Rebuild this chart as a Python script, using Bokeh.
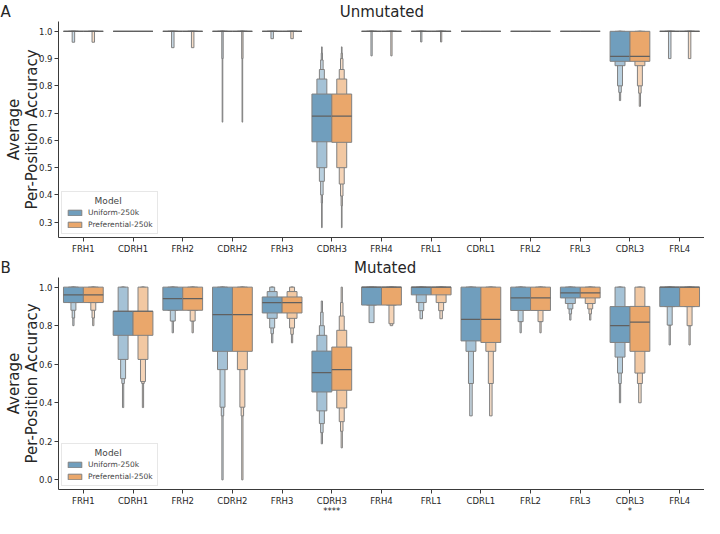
import numpy as np
from bokeh.plotting import figure
from bokeh.models import Range1d, FixedTicker, Legend, LegendItem, Title, ColumnDataSource
from bokeh.layouts import column
from bokeh.embed import file_html
from bokeh.resources import INLINE

REGIONS = ["FRH1", "CDRH1", "FRH2", "CDRH2", "FRH3", "CDRH3", "FRH4",
           "FRL1", "CDRL1", "FRL2", "FRL3", "CDRL3", "FRL4"]
MODELS = ["Uniform-250k", "Preferential-250k"]
SIG_B = ["", "", "", "", "", "****", "", "", "", "", "", "*", ""]
Y_TICKS_A = [0.3, 0.4, 0.5, 0.6, 0.7, 0.8, 0.9, 1.0]
Y_TICKS_B = [0.0, 0.2, 0.4, 0.6, 0.8, 1.0]

# Letter-value boxes, innermost level first: lower / upper bounds, and medians
# ---- Panel A: Unmutated ----
A_UNI_LO = [[1, 1, 1, 0.96], [1], [1, 1, 1, 0.94], [1, 1, 1, 1, 0.90, 0.667], [1, 1, 1, 0.973],
            [0.595, 0.50, 0.45, 0.40, 0.37, 0.28], [1, 1, 1, 1, 0.91], [1, 1, 1, 1, 0.961], [1], [1], [1],
            [0.89, 0.874, 0.80, 0.776, 0.746], [1, 1, 1, 0.90]]
A_UNI_HI = [[1, 1, 1, 1], [1], [1, 1, 1, 1], [1, 1, 1, 1, 1, 1], [1, 1, 1, 1],
            [0.77, 0.825, 0.86, 0.895, 0.92, 0.943], [1, 1, 1, 1, 1], [1, 1, 1, 1, 1], [1], [1], [1],
            [1, 1, 1, 1, 1], [1, 1, 1, 1]]
A_UNI_MED = [1, 1, 1, 1, 1, 0.689, 1, 1, 1, 1, 1, 0.908, 1]
A_PRE_LO = [[1, 1, 1, 0.96], [1], [1, 1, 1, 0.94], [1, 1, 1, 1, 0.90, 0.667], [1, 1, 1, 0.973],
            [0.593, 0.50, 0.44, 0.396, 0.36, 0.28], [1, 1, 1, 1, 0.91], [1, 1, 1, 1, 0.961], [1], [1], [1],
            [0.89, 0.874, 0.80, 0.773, 0.725], [1, 1, 1, 0.90]]
A_PRE_HI = [[1, 1, 1, 1], [1], [1, 1, 1, 1], [1, 1, 1, 1, 1, 1], [1, 1, 1, 1],
            [0.77, 0.825, 0.86, 0.90, 0.92, 0.943], [1, 1, 1, 1, 1], [1, 1, 1, 1, 1], [1], [1], [1],
            [1, 1, 1, 1, 1], [1, 1, 1, 1]]
A_PRE_MED = [1, 1, 1, 1, 1, 0.689, 1, 1, 1, 1, 1, 0.908, 1]

# ---- Panel B: Mutated ----
B_UNI_LO = [[0.92, 0.92, 0.88, 0.84, 0.80], [0.75, 0.625, 0.525, 0.50, 0.375], [0.88, 0.88, 0.824, 0.824, 0.763],
            [0.667, 0.572, 0.377, 0.332, 0.0], [0.866, 0.838, 0.788, 0.758, 0.711],
            [0.456, 0.358, 0.292, 0.245, 0.187], [0.907, 0.907, 0.816], [0.96, 0.92, 0.878, 0.836],
            [0.721, 0.667, 0.50, 0.332], [0.879, 0.879, 0.821, 0.821, 0.763], [0.944, 0.915, 0.887, 0.861, 0.829],
            [0.713, 0.637, 0.554, 0.50, 0.40], [0.899, 0.899, 0.803, 0.803, 0.70]]
B_UNI_HI = [[1, 1, 1, 1, 1], [0.875, 1, 1, 1, 1], [1, 1, 1, 1, 1],
            [1, 1, 1, 1, 1], [0.949, 0.977, 1, 1, 1],
            [0.668, 0.75, 0.80, 0.87, 0.928], [1, 1, 1], [1, 1, 1, 1],
            [1, 1, 1, 1], [1, 1, 1, 1, 1], [1, 1, 1, 1, 1],
            [0.899, 1, 1, 1, 1], [1, 1, 1, 1, 1]]
B_UNI_MED = [0.96, 0.875, 0.94, 0.857, 0.92, 0.556, 1.0, 1.0, 0.833, 0.944, 0.97, 0.80, 1.0]
B_PRE_LO = [[0.92, 0.92, 0.88, 0.84, 0.80], [0.75, 0.625, 0.51, 0.50, 0.375], [0.88, 0.88, 0.824, 0.824, 0.763],
            [0.667, 0.572, 0.377, 0.332, 0.0], [0.866, 0.838, 0.788, 0.755, 0.711],
            [0.465, 0.373, 0.302, 0.252, 0.166], [0.907, 0.907, 0.81, 0.80], [0.96, 0.92, 0.878, 0.836],
            [0.713, 0.667, 0.50, 0.332], [0.879, 0.879, 0.821, 0.821, 0.763], [0.944, 0.915, 0.887, 0.861, 0.829],
            [0.667, 0.554, 0.50, 0.40], [0.899, 0.899, 0.80, 0.80, 0.70]]
B_PRE_HI = [[1, 1, 1, 1, 1], [0.875, 1, 1, 1, 1], [1, 1, 1, 1, 1],
            [1, 1, 1, 1, 1], [0.949, 0.977, 1, 1, 1],
            [0.689, 0.776, 0.85, 0.92, 1.0], [1, 1, 1, 1], [1, 1, 1, 1],
            [1, 1, 1, 1], [1, 1, 1, 1, 1], [1, 1, 1, 1, 1],
            [0.90, 1, 1, 1], [1, 1, 1, 1, 1]]
B_PRE_MED = [0.96, 0.875, 0.94, 0.857, 0.92, 0.572, 1.0, 1.0, 0.833, 0.944, 0.97, 0.818, 1.0]

BASE_COLORS = ["#3274a1", "#e1812c"]
LEVEL_MIX = [0.30, 0.56, 0.66, 0.74, 0.80, 0.85]
EDGE = "#808080"
FONT = "DejaVu Sans"
NB = "\u00a0"


def mix(hexcol, t):
    r, g, b = (int(hexcol[i:i + 2], 16) for i in (1, 3, 5))
    r, g, b = (int(round(c + (255 - c) * t)) for c in (r, g, b))
    return "#%02x%02x%02x" % (r, g, b)


def add_boxen(p, los, his, meds, hue):
    off = -0.2 if hue == 0 else 0.2
    d = dict(left=[], right=[], bottom=[], top=[], color=[])
    legend_idx = None
    for i, (lo, hi) in enumerate(zip(los, his)):
        c = i + off
        for k in reversed(range(len(lo))):
            hw = 0.2 * 0.5 ** k
            d["left"].append(c - hw)
            d["right"].append(c + hw)
            d["bottom"].append(lo[k])
            d["top"].append(hi[k])
            d["color"].append(mix(BASE_COLORS[hue], LEVEL_MIX[k]))
            if legend_idx is None and k == 0:
                legend_idx = len(d["left"]) - 1
    r = p.quad(left="left", right="right", bottom="bottom", top="top", fill_color="color",
               line_color=EDGE, line_width=1, source=ColumnDataSource(d))
    xs = [[i + off - 0.2, i + off + 0.2] for i in range(len(meds))]
    ys = [[m, m] for m in meds]
    p.multi_line(xs, ys, line_color="#606060", line_width=1.2)
    return r, legend_idx


def make_panel(title_text, los_u, his_u, med_u, los_p, his_p, med_p, yr, yticks, sig, height):
    p = figure(width=704, height=height, x_range=Range1d(-0.5, 12.5), y_range=Range1d(*yr),
               output_backend="svg", toolbar_location=None, min_border=0, min_border_left=58,
               min_border_right=0, min_border_top=0, min_border_bottom=0)
    p.outline_line_color = None
    p.grid.visible = False
    r0, i0 = add_boxen(p, los_u, his_u, med_u, 0)
    r1, i1 = add_boxen(p, los_p, his_p, med_p, 1)

    p.xaxis.ticker = FixedTicker(ticks=list(range(len(REGIONS))))
    p.xaxis.major_label_overrides = {i: (REGIONS[i] + ("\n" + sig[i] if sig[i] else "")) for i in range(len(REGIONS))}
    p.xaxis.axis_label = None
    p.xaxis.axis_label_standoff = 0
    p.xaxis.axis_label_text_font_size = "0px"
    p.yaxis.ticker = FixedTicker(ticks=yticks)
    p.yaxis.major_label_overrides = {t: f"{t:.1f}" for t in yticks}
    p.yaxis.axis_label = "Average\nPer-Position Accuracy"
    p.yaxis.axis_label_text_font_size = "15px"
    p.yaxis.axis_label_text_font_style = "normal"
    p.yaxis.axis_label_text_line_height = 1.0
    p.yaxis.axis_label_standoff = -5
    for ax in (p.xaxis, p.yaxis):
        ax.axis_line_color = "#3a3a3a"
        ax.major_tick_line_color = "#3a3a3a"
        ax.major_tick_out = 4
        ax.major_tick_in = 0
        ax.minor_tick_line_color = None
        ax.major_label_text_font = FONT
        ax.major_label_text_font_size = "8.5px"
        ax.major_label_text_line_height = 1.0
        ax.major_label_text_color = "#262626"
        ax.major_label_standoff = 2
        ax.axis_label_text_font = FONT
        ax.axis_label_text_color = "#262626"

    legend = Legend(items=[LegendItem(label=MODELS[0], renderers=[r0], index=i0),
                           LegendItem(label=MODELS[1], renderers=[r1], index=i1)],
                    location=(3, 3), title=NB * 10 + "Model",
                    title_text_font=FONT, title_text_font_size="9px", title_text_font_style="normal",
                    title_standoff=2, label_text_font=FONT, label_text_font_size="7.5px",
                    label_height=9, glyph_height=7, glyph_width=17, spacing=3, padding=4,
                    margin=0, label_standoff=5, border_line_color="#d0d0d0",
                    background_fill_alpha=0.85)
    p.add_layout(legend, "center")

    p.add_layout(Title(text=title_text, align="left", offset=-58, standoff=1,
                       text_font=FONT, text_font_size="15px", text_font_style="normal",
                       text_color="#262626"), "above")
    return p


pa = make_panel("A" + NB * 69 + "Unmutated", A_UNI_LO, A_UNI_HI, A_UNI_MED, A_PRE_LO, A_PRE_HI, A_PRE_MED,
                (0.244, 1.036), Y_TICKS_A, [""] * 13, 256)
pb = make_panel("B" + NB * 72 + "Mutated", B_UNI_LO, B_UNI_HI, B_UNI_MED, B_PRE_LO, B_PRE_HI, B_PRE_MED,
                (-0.05, 1.05), Y_TICKS_B, SIG_B, 262)

layout = column(pa, pb, spacing=0)
open("out.html", "w").write(file_html(layout, INLINE))
